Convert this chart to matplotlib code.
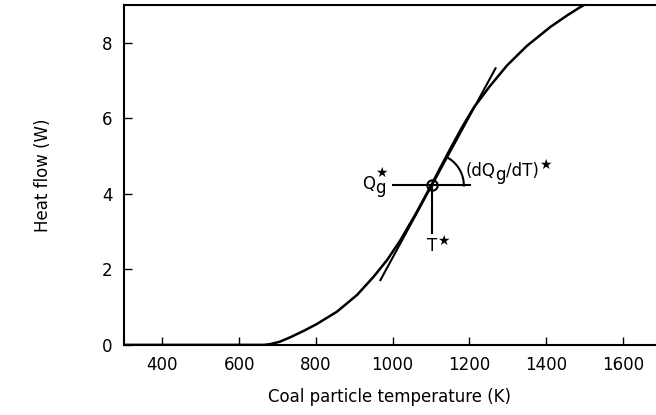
import numpy as np
import matplotlib.pyplot as plt
from matplotlib.transforms import IdentityTransform

# heat generation curve
temp = [300, 500, 640, 665, 681, 705, 733, 770, 802, 855, 907, 950, 985,
        1020, 1060, 1100, 1125, 1150, 1180, 1211, 1254, 1298, 1350, 1411,
        1454, 1485, 1510]
heat = [0, 0, 0, 0.0, 0.02, 0.08, 0.2, 0.38, 0.55, 0.88, 1.32, 1.80, 2.24,
        2.77, 3.47, 4.22, 4.71, 5.19, 5.75, 6.28, 6.86, 7.40, 7.92, 8.42,
        8.72, 8.92, 9.07]

# critical point and tangent
t_star = 1102
q_star = 4.22
slope = 0.0187
tan_range = [968, 1268]
hline = [1000, 1202]
vline_bottom = 2.95

fig = plt.figure(figsize=(6.56, 4.15), dpi=100)
ax = fig.add_axes([0.189, 0.169, 0.811, 0.819])
ax.set_xlim(300, 1686)
ax.set_ylim(0, 9)

ax.plot(temp, heat, 'k', lw=1.8)

tt = np.array(tan_range)
ax.plot(tt, q_star + slope * (tt - t_star), 'k', lw=1.5)
ax.plot(hline, [q_star, q_star], 'k', lw=1.5)
ax.plot([t_star, t_star], [q_star, vline_bottom], 'k', lw=1.5)
ax.plot(t_star, q_star, 'o', ms=7.5, mfc='none', mec='k', mew=1.5)

# angle arc, drawn circular on screen
fig.canvas.draw()
rend = fig.canvas.get_renderer()
p0 = ax.transData.transform((t_star, q_star))
p1 = ax.transData.transform((t_star + 1, q_star + 1))
kx = p1[0] - p0[0]   # px per K
ky = p1[1] - p0[1]   # px per W
ang = np.arctan2(slope * ky, kx)
r_px = 32
a = np.linspace(0, ang, 50)
ax.plot(t_star + r_px * np.cos(a) / kx, q_star + r_px * np.sin(a) / ky,
        'k', lw=1.5)

fs = 12
sfs = 10
ident = IdentityTransform()


def chain(t0, q0, pieces, ha='left'):
    # write text pieces one after another, in pixels from a data point
    x, y = ax.transData.transform((t0, q0))
    out = []
    for s, dy in pieces:
        t = ax.text(x, y + dy, s, fontsize=fs, va='baseline', ha=ha,
                    transform=ident)
        bb = t.get_window_extent(rend)
        x = bb.x1
        out.append((t, bb, y))
    return out


def star_at(x, y):
    ax.text(x, y, '★', fontsize=sfs, ha='center', va='center', transform=ident)


# (dQg/dT)*
parts = chain(1189, 4.47, [('(dQ', 0), ('g', -4), ('/dT)', 0)])
t, bb, y = parts[-1]
star_at(bb.x1 + 7, y + 11.5)

# Qg*
parts = chain(920, 4.12, [('Q', 0), ('g', -4)])
t, bb, y = parts[-1]
star_at((bb.x0 + bb.x1) / 2 + 1, y + 16)

# T*
tp = ax.transData.transform((t_star, 2.49))
tt_ = ax.text(tp[0], tp[1], 'T', fontsize=fs, ha='center', va='baseline',
              transform=ident)
bb = tt_.get_window_extent(rend)
star_at(bb.x1 + 6, tp[1] + 10)

ax.set_xticks([400, 600, 800, 1000, 1200, 1400, 1600])
ax.set_yticks([0, 2, 4, 6, 8])
ax.tick_params(direction='in', length=6, width=1, labelsize=fs, pad=8)
ax.spines['right'].set_visible(False)
for s in ['left', 'bottom', 'top']:
    ax.spines[s].set_linewidth(1.5)

ax.set_xlabel('Coal particle temperature (K)', fontsize=fs, labelpad=10)
ax.set_ylabel('Heat flow (W)', fontsize=fs, labelpad=36)

fig.savefig('out.png', dpi=100)
